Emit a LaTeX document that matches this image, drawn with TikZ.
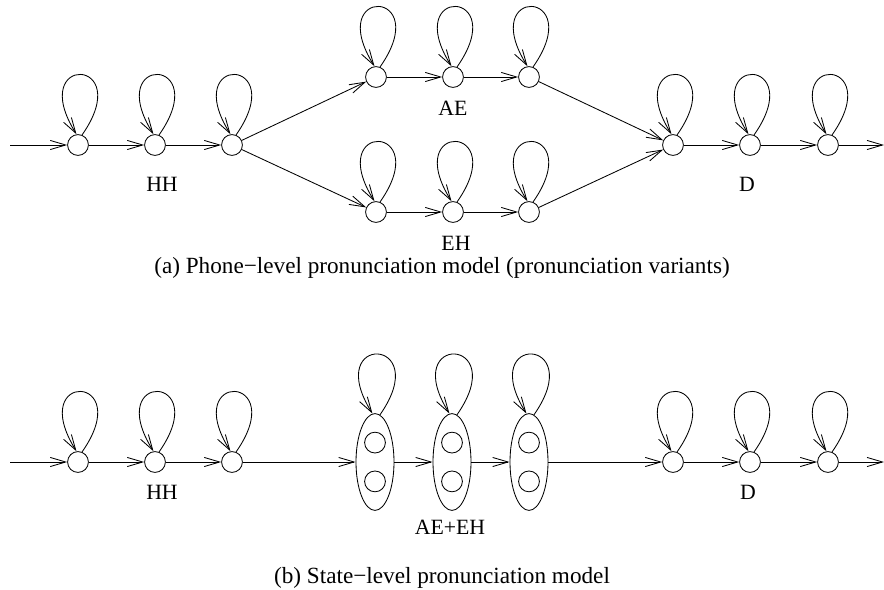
\documentclass[tikz,border=0pt]{standalone}
\usepackage{fontspec}
\setmainfont{Liberation Serif}
\usetikzlibrary{arrows.meta,shapes.geometric}
\begin{document}
\begin{tikzpicture}[>={Straight Barb[length=11pt,width=6.5pt]}, line width=0.6pt,
        every node/.style={font=\fontsize{15.5}{18}\selectfont},
        captxt/.style={font=\fontsize{16.5}{19}\selectfont},
        st/.style={draw,circle,minimum size=0.52cm,inner sep=0pt},
        grp/.style={draw,ellipse,minimum width=0.95cm,minimum height=2.42cm,inner sep=0pt},
        selfloop/.style={out=55,in=122,distance=2.4cm}]
        \useasboundingbox (0,0) rectangle (22.1,-14.75);
        % (a) phone level
        \coordinate (ina) at (0.25,-3.625);
        \coordinate (outa) at (22.1,-3.625);
        \node[st] (h1) at (1.95,-3.625) {};
        \node[st] (h2) at (3.875,-3.625) {};
        \node[st] (h3) at (5.8,-3.625) {};
        \node[st] (ae1) at (9.4,-1.925) {};
        \node[st] (ae2) at (11.325,-1.925) {};
        \node[st] (ae3) at (13.225,-1.925) {};
        \node[st] (eh1) at (9.4,-5.3) {};
        \node[st] (eh2) at (11.325,-5.3) {};
        \node[st] (eh3) at (13.225,-5.3) {};
        \node[st] (d1) at (16.825,-3.625) {};
        \node[st] (d2) at (18.75,-3.625) {};
        \node[st] (d3) at (20.7,-3.625) {};
        \draw[->] (ina)--(h1);
        \draw[->] (h1)--(h2);
        \draw[->] (h2)--(h3);
        \draw[->] (h3)--(ae1);
        \draw[->] (h3)--(eh1);
        \draw[->] (ae1)--(ae2);
        \draw[->] (ae2)--(ae3);
        \draw[->] (eh1)--(eh2);
        \draw[->] (eh2)--(eh3);
        \draw[->] (ae3)--(d1);
        \draw[->] (eh3)--(d1);
        \draw[->] (d1)--(d2);
        \draw[->] (d2)--(d3);
        \draw[->] (d3)--(outa);
        \foreach \n in {h1,h2,h3,ae1,ae2,ae3,eh1,eh2,eh3,d1,d2,d3}
            \draw[->] (\n.68) to[selfloop] (\n.98);
        \node (hha) at (4.05,-4.6) {HH};
        \node (aea) at (11.325,-2.7) {AE};
        \node (eha) at (11.4,-6.075) {EH};
        \node (dda) at (18.675,-4.6) {D};
        \node[captxt] (capa) at (11.05,-6.7) {(a) Phone\textminus level pronunciation model (pronunciation variants)};
        % (b) state level
        \coordinate (inb) at (0.25,-11.55);
        \coordinate (outb) at (22.1,-11.55);
        \node[st] (s1) at (1.95,-11.55) {};
        \node[st] (s2) at (3.875,-11.55) {};
        \node[st] (s3) at (5.8,-11.55) {};
        \node[grp] (g1) at (9.375,-11.55) {};
        \node[grp] (g2) at (11.3,-11.55) {};
        \node[grp] (g3) at (13.225,-11.55) {};
        \node[st] (t1) at (16.825,-11.55) {};
        \node[st] (t2) at (18.75,-11.55) {};
        \node[st] (t3) at (20.7,-11.55) {};
        \foreach \g in {g1,g2,g3} {
            \node[st] (\g u) at ([yshift=0.485cm]\g.center) {};
            \node[st] (\g l) at ([yshift=-0.485cm]\g.center) {};
        }
        \draw[->] (inb)--(s1);
        \draw[->] (s1)--(s2);
        \draw[->] (s2)--(s3);
        \draw[->] (s3)--(g1);
        \draw[->] (g1)--(g2);
        \draw[->] (g2)--(g3);
        \draw[->] (g3)--(t1);
        \draw[->] (t1)--(t2);
        \draw[->] (t2)--(t3);
        \draw[->] (t3)--(outb);
        \foreach \n in {s1,s2,s3,t1,t2,t3}
            \draw[->] (\n.68) to[selfloop] (\n.98);
        \foreach \g in {g1,g2,g3}
            \draw[->] (\g.84) to[selfloop] (\g.93);
        \node (hhb) at (4.05,-12.3) {HH};
        \node (aeeh) at (11.25,-13.175) {AE+EH};
        \node (ddb) at (18.7,-12.3) {D};
        \node[captxt] (capb) at (11.05,-14.45) {(b) State\textminus level pronunciation model};
    \end{tikzpicture}
\end{document}
